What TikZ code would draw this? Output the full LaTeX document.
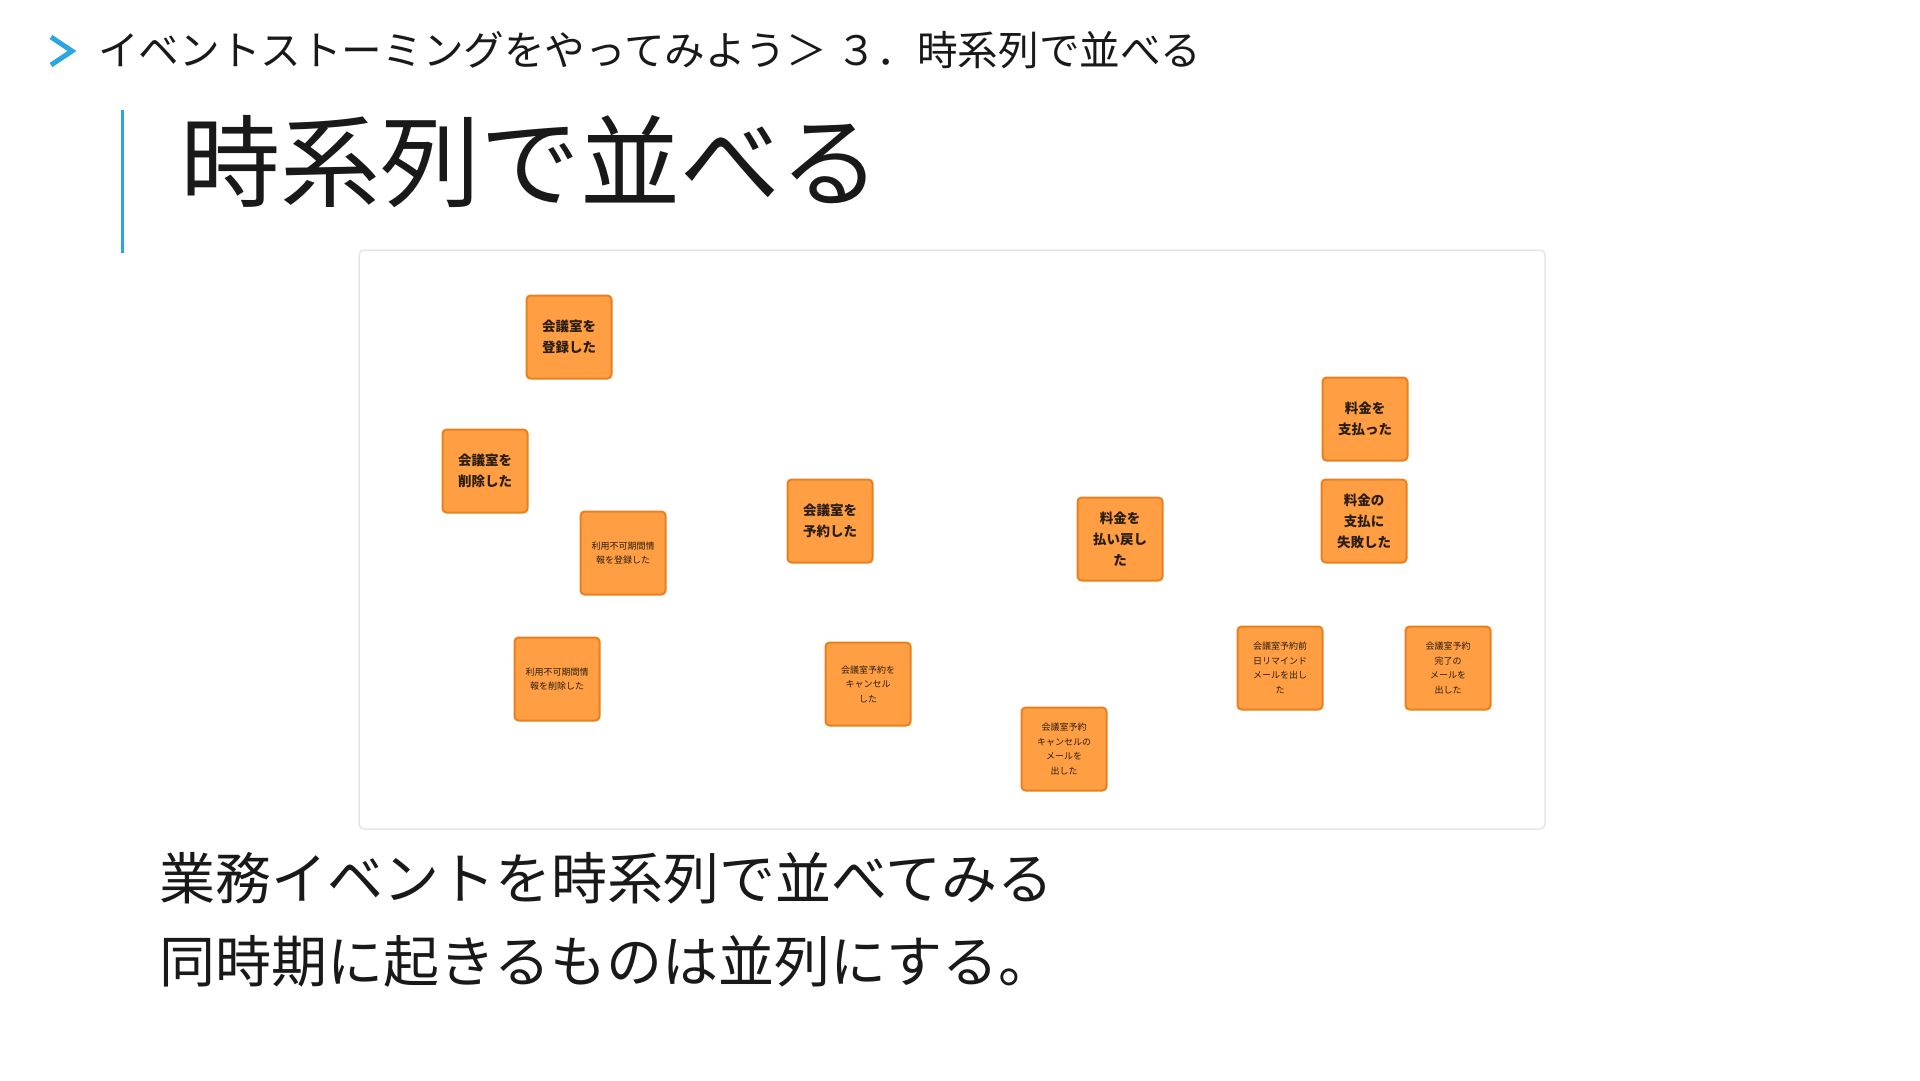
\documentclass[tikz,border=0pt]{standalone}
\usepackage{fontspec}
\setmainfont{Noto Sans CJK JP}
\definecolor{accent}{HTML}{2BA6DE}
\definecolor{stickyfill}{HTML}{FF9E42}
\definecolor{stickyedge}{HTML}{E8801E}
\definecolor{stickytext}{HTML}{2A1E12}
\definecolor{framegray}{HTML}{E6E6E6}

\begin{document}
\begin{tikzpicture}[x=1pt,y=-1pt,
    sticky/.style={draw=stickyedge,fill=stickyfill,line width=2pt,rounded corners=4pt,
      minimum width=85pt,minimum height=83pt,inner sep=0pt,align=center,text=stickytext},
    bigtext/.style={font=\fontsize{13.5}{21}\selectfont\bfseries},
    smalltext/.style={font=\fontsize{9}{14.5}\selectfont},
    plain/.style={anchor=west,inner sep=0pt,text=black!90}]
    \useasboundingbox (0,0) rectangle (1920,1080);
    % breadcrumb
    \draw[accent,line width=5pt] (51,37) -- (72,51) -- (51,65);
    \node[plain,font=\fontsize{40.6}{40.6}\selectfont] (crumb) at (98,50) {イベントストーミングをやってみよう＞ ３．時系列で並べる};
    % title with its bar
    \draw[accent,line width=3pt] (122,110) -- (122,253);
    \node[plain,font=\fontsize{100}{100}\selectfont] (title) at (180,162) {時系列で並べる};
    % board
    \draw[framegray,line width=1.5pt,rounded corners=5pt] (359,250) rectangle (1545,829);
    % events, big notes
    \foreach \name/\x/\y/\txt in {roomadd/569/337/{会議室を\\登録した},
        roomdel/485/471/{会議室を\\削除した},
        reserve/830/521/{会議室を\\予約した},
        refund/1120/539/{料金を\\払い戻し\\た},
        paid/1365/419/{料金を\\支払った},
        payfail/1364/521/{料金の\\支払に\\失敗した}}
      \node[sticky,bigtext] (\name) at (\x,\y) {\txt};
    % events, small notes
    \foreach \name/\x/\y/\txt in {blockadd/623/553/{利用不可期間情\\報を登録した},
        blockdel/557/679/{利用不可期間情\\報を削除した},
        cancel/868/684/{会議室予約を\\キャンセル\\した},
        cancelmail/1064/749/{会議室予約\\キャンセルの\\メールを\\出した},
        remind/1280/668/{会議室予約前\\日リマインド\\メールを出し\\た},
        donemail/1448/668/{会議室予約\\完了の\\メールを\\出した}}
      \node[sticky,smalltext] (\name) at (\x,\y) {\txt};
    % notes below the board
    \node[plain,font=\fontsize{56}{56}\selectfont] (note1) at (159,878) {業務イベントを時系列で並べてみる};
    \node[plain,font=\fontsize{56}{56}\selectfont] (note2) at (159,961) {同時期に起きるものは並列にする。};
\end{tikzpicture}
\end{document}
